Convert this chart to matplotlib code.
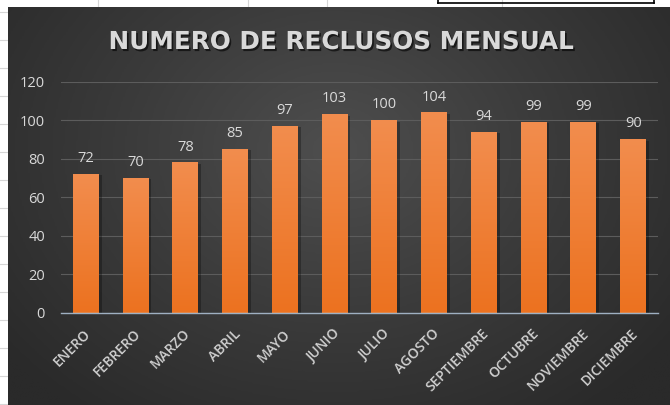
import numpy as np
import matplotlib
matplotlib.use("Agg")
import matplotlib.pyplot as plt
import matplotlib.patheffects as pe
from matplotlib.transforms import ScaledTranslation
from matplotlib.colors import LinearSegmentedColormap

# Monthly inmate counts
meses = ["ENERO", "FEBRERO", "MARZO", "ABRIL", "MAYO", "JUNIO", "JULIO",
         "AGOSTO", "SEPTIEMBRE", "OCTUBRE", "NOVIEMBRE", "DICIEMBRE"]
reclusos = [72, 70, 78, 85, 97, 103, 100, 104, 94, 99, 99, 90]
y_ticks = [0, 20, 40, 60, 80, 100, 120]
titulo = "NUMERO DE RECLUSOS MENSUAL"

W, H = 670, 405
fig = plt.figure(figsize=(W / 100, H / 100), dpi=100)

# ---- backdrop: worksheet strip + dark chart area with radial shading ----
bg = fig.add_axes([0, 0, 1, 1], zorder=0)
bg.axis("off")
bg.add_patch(plt.Rectangle((0, 0), W, H, color="white", zorder=0.5))
for yy in range(12, H, 28):
    bg.plot([0, 8], [yy, yy], color="#d6d6d6", lw=0.8, zorder=1)
for xx in [98, 248, 327, 502]:
    bg.plot([xx, xx], [0, 7], color="#d6d6d6", lw=0.8, zorder=1)
bg.plot([438, 654], [3, 3], color="black", lw=1.2, zorder=1)
bg.plot([654, 654], [0, 3], color="black", lw=1.2, zorder=1)
bg.plot([438, 438], [0, 3], color="black", lw=1.2, zorder=1)

x0, x1, y0, y1 = 8, W, 7, H
gx, gy = np.meshgrid(np.linspace(x0, x1, 400), np.linspace(y0, y1, 300))
r = np.sqrt(((gx - 335) / 420) ** 2 + ((gy - 150) / 330) ** 2)
r = np.clip(r, 0, 1)
cm_bg = LinearSegmentedColormap.from_list("bgc", ["#4e4e4e", "#3b3b3b", "#2a2a2a"])
bg.imshow(r, extent=[x0, x1, y1, y0], cmap=cm_bg, vmin=0, vmax=1,
          aspect="auto", interpolation="bilinear", zorder=2)
bg.set_xlim(0, W)
bg.set_ylim(H, 0)

# ---- bar chart ----
ax = fig.add_axes([61 / W, 1 - 312.5 / H, (658 - 61) / W, (312.5 - 81.7) / H], zorder=1)
ax.set_facecolor("none")
xs = np.arange(len(meses))
bars = ax.bar(xs, reclusos, width=0.52, color="#ef7d2c", zorder=3,
              path_effects=[pe.SimplePatchShadow(offset=(2, -1), shadow_rgbFace="black", alpha=0.28),
                            pe.Normal()])

cm_bar = LinearSegmentedColormap.from_list("barc", ["#ec7220", "#f28d4e"])
grad = np.linspace(0, 1, 128).reshape(-1, 1)
for b in bars:
    im = ax.imshow(grad, extent=[b.get_x(), b.get_x() + b.get_width(), 0, b.get_height()],
                   origin="lower", cmap=cm_bar, aspect="auto", zorder=3.5)
    im.set_clip_path(b)

for xi, v in zip(xs, reclusos):
    ax.annotate(str(v), (xi, v), xytext=(0, 8.6), textcoords="offset points",
                ha="center", va="baseline", color="#d9d9d9", fontsize=10.5,
                family="Open Sans", zorder=5)

ax.set_xlim(-0.5, len(meses) - 0.5)
ax.set_ylim(0, 120)
ax.set_yticks(y_ticks)
ax.set_yticklabels([str(t) for t in y_ticks], family="Open Sans", fontsize=10.5, color="#d9d9d9")
ax.tick_params(axis="y", length=0, pad=11.5)
ax.yaxis.grid(True, color="#5c5c5c", lw=0.8, zorder=1)
ax.set_axisbelow(True)
for s in ["top", "right", "left"]:
    ax.spines[s].set_visible(False)
ax.spines["bottom"].set_color("#9fb0c2")
ax.spines["bottom"].set_linewidth(1.0)
ax.spines["bottom"].set_zorder(4)

ax.set_xticks(xs)
ax.set_xticklabels(meses, rotation=45, ha="right", va="center", rotation_mode="anchor",
                   family="Open Sans", fontweight="semibold", fontsize=10, color="#d0d0d0")
ax.tick_params(axis="x", length=0, pad=0)
shift = ScaledTranslation(3 / 100, -19 / 100, fig.dpi_scale_trans)
for lab in ax.get_xticklabels():
    lab.set_transform(lab.get_transform() + shift)

fig.text(341 / W, 1 - 42 / H, titulo, ha="center", va="center",
         family="DejaVu Sans", fontweight="bold", fontsize=17.8, color="#d9d9d9",
         path_effects=[pe.withSimplePatchShadow(offset=(1.2, -1.5), shadow_rgbFace="black", alpha=0.6)],
         zorder=6)

fig.savefig("out.png", dpi=100)
